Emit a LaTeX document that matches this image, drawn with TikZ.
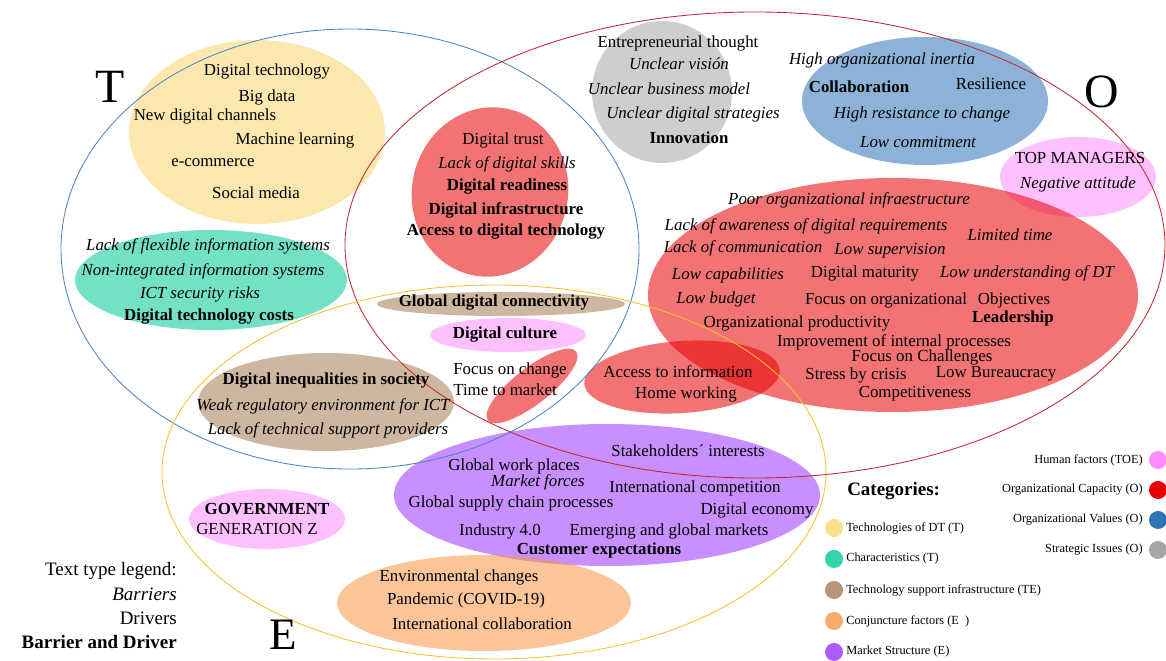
\documentclass[tikz,border=0pt]{standalone}
\usepackage{fontspec}
\setmainfont{Liberation Serif}
\usetikzlibrary{shapes.geometric}

\definecolor{cTech}{HTML}{F9D66E}
\definecolor{cChar}{HTML}{00C896}
\definecolor{cInfra}{HTML}{A67C52}
\definecolor{cConj}{HTML}{F79646}
\definecolor{cMkt}{HTML}{9933FF}
\definecolor{cHum}{HTML}{FF8CFF}
\definecolor{cCap}{HTML}{E80000}
\definecolor{cVal}{HTML}{2E75B6}
\definecolor{cStrat}{HTML}{A6A6A6}
\definecolor{lineT}{HTML}{4F81C7}
\definecolor{lineO}{HTML}{C0272D}
\definecolor{lineE}{HTML}{F2C12E}

\tikzset{
    txt/.style={inner sep=0pt, font=\fontsize{12}{14}\selectfont},
    drv/.style={txt},
    bar/.style={txt, font=\fontsize{12}{14}\selectfont\itshape},
    both/.style={txt, font=\fontsize{12}{14}\selectfont\bfseries},
    blob/.style={ellipse, draw=none, inner sep=0pt, fill opacity=0.55},
    ring/.style={line width=0.6pt},
    big/.style={inner sep=0pt, font=\fontsize{34}{34}\selectfont},
    legtxt/.style={inner sep=0pt, font=\fontsize{13.5}{15}\selectfont},
    cattxt/.style={inner sep=0pt, font=\fontsize{8.8}{10}\selectfont},
    dot/.style={circle, draw=none, inner sep=0pt, minimum size=0.45cm}
}

\begin{document}
\begin{tikzpicture}[x=0.025cm, y=-0.025cm]
    \useasboundingbox (0,0) rectangle (1166,661);

    % Category blobs
    \foreach \n/\x/\y/\w/\h/\c/\r in {
            techDT/257/132/256/184/cTech/0,
            chars/211/280/272/100/cChar/0,
            trust/490/192/156/170/cCap/-12,
            strat/662/92/140/142/cStrat/0,
            values/925/101/246/128/cVal/0,
            topman/1078/177/156/80/cHum/0,
            capac/893/295/490/234/cCap/0,
            access/682/377/196/72/cCap/4,
            change/532/386/112/36/cCap/38,
            connect/501/304/248/24/cInfra/0,
            culture/508/335/156/34/cHum/0,
            ineq/326/402/256/98/cInfra/0,
            market/607/495/426/142/cMkt/0,
            gov/267/519/156/60/cHum/0,
            conj/484/603/294/96/cConj/0
            } {
        \node[blob, fill=\c, rotate=\r, minimum width=\w*0.025cm, minimum height=\h*0.025cm] (\n) at (\x,\y) {};
    }

    % T, O, E
    \draw[ring, lineT] (350,249) ellipse [x radius=289, y radius=220];
    \draw[ring, lineO] (755,245) ellipse [x radius=410, y radius=233];
    \draw[ring, lineE] (494,472) ellipse [x radius=332, y radius=187];
    \node[big] (letT) at (110,87) {T};
    \node[big] (letO) at (1102,92) {O};
    \node[big, anchor=base, font=\fontsize{32}{32}\selectfont] (letE) at (283,650) {E};

    % Texts
    \foreach \s/\x/\y/\t [count=\k] in {
            drv/267/71/Digital  technology,
            drv/267/97/Big  data,
            drv/205/116/New  digital  channels,
            drv/295/140/Machine  learning,
            drv/213/163/e-commerce,
            drv/256/193/Social media,
            bar/208/246/Lack of flexible  information systems,
            bar/203/271/Non-integrated information systems,
            bar/200/294/ICT security risks,
            both/209/317/Digital technology costs,
            drv/503/140/Digital  trust,
            bar/507/164/Lack of digital skills,
            both/507/187/Digital readiness,
            both/506/210/Digital infrastructure,
            both/506/232/Access to digital technology,
            drv/678/43/Entrepreneurial  thought,
            bar/679/64/Unclear visión,
            bar/669/89/Unclear business model,
            bar/693/114/Unclear digital strategies,
            both/689/138/Innovation,
            bar/882/60/High organizational inertia,
            both/859/87/Collaboration,
            drv/991/84/Resilience,
            bar/922/114/High resistance to change,
            bar/918/142/Low commitment,
            drv/1080/158/TOP MANAGERS,
            bar/1078/184/Negative attitude,
            bar/849/200/Poor organizational infraestructure,
            bar/806/226/Lack of awareness of digital requirements,
            bar/1010/235/Limited time,
            bar/743/248/Lack of communication,
            bar/890/251/Low supervision,
            bar/728/275/Low capabilities,
            drv/865/273/Digital  maturity,
            bar/1027/273/Low understanding of DT,
            bar/716/299/Low budget,
            drv/886/300/Focus on organizational,
            drv/1014/300/Objectives,
            drv/797/323/Organizational  productivity,
            both/1013/318/Leadership,
            drv/894/342/Improvement  of internal  processes,
            drv/922/357/Focus on Challenges,
            drv/856/375/Stress by crisis,
            drv/996/374/Low Bureaucracy,
            drv/915/394/Competitiveness,
            drv/678/372/Access to information,
            drv/686/394/Home working,
            drv/510/370/Focus on change,
            drv/505/390/Time to market,
            both/494/303/Global digital connectivity,
            both/505/335/Digital culture,
            both/326/381/Digital inequalities in society,
            bar/323/406/Weak regulatory environment for ICT,
            bar/328/430/Lack of technical support providers,
            drv/688/451/Stakeholders´  interests,
            drv/514/466/Global work places,
            bar/538/482/Market forces,
            drv/695/488/International  competition,
            drv/511/503/Global supply chain processes,
            drv/757/510/Digital  economy,
            drv/500/531/Industry 4.0,
            drv/669/531/Emerging  and global  markets,
            both/599/550/Customer expectations,
            both/267/509/GOVERNMENT,
            drv/257/529/GENERATION Z,
            drv/459/577/Environmental  changes,
            drv/466/600/Pandemic (COVID-19),
            drv/482/624/International  collaboration
            } {
        \node[\s] (txt\k) at (\x,\y) {\t};
    }

    % Text type legend
    \node[legtxt, anchor=east] (leg0) at (177,571) {Text type legend:};
    \node[legtxt, anchor=east, font=\fontsize{13.5}{15}\selectfont\itshape] (leg1) at (177,594) {Barriers};
    \node[legtxt, anchor=east] (leg2) at (177,618) {Drivers};
    \node[legtxt, anchor=east, font=\fontsize{13.5}{15}\selectfont\bfseries] (leg3) at (177,642) {Barrier  and Driver};

    % Categories
    \node[inner sep=0pt, anchor=west, font=\fontsize{13.5}{15}\selectfont\bfseries] (cats) at (847,491) {Categories:};
    \foreach \i/\c/\v in {
            0/cTech/Technologies of DT (T),
            1/cChar/Characteristics  (T),
            2/cInfra/Technology support infrastructure (TE),
            3/cConj/Conjuncture factors (E~~),
            4/cMkt/Market  Structure (E)
            } {
        \node[dot, fill=\c, fill opacity=0.8] (dl\i) at (834,528+\i*31) {};
        \node[cattxt, anchor=west] (cl\i) at (846,528+\i*31) {\v};
    }
    \foreach \i/\c/\v in {
            0/cHum/Human factors (TOE),
            1/cCap/Organizational  Capacity (O),
            2/cVal/Organizational  Values (O),
            3/cStrat/Strategic Issues (O)
            } {
        \node[dot, fill=\c] (dr\i) at (1158,460+\i*30) {};
        \node[cattxt, anchor=east] (cr\i) at (1143,460+\i*30) {\v};
    }
\end{tikzpicture}
\end{document}
